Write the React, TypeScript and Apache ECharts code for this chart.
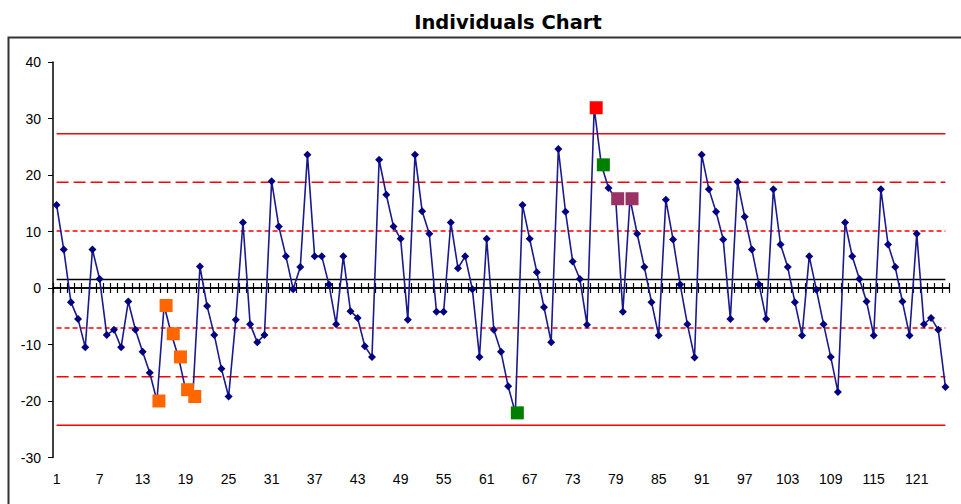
import React, { useEffect, useRef } from 'react';
import * as echarts from 'echarts';

// Observation numbers 1..125
const categories: string[] = Array.from({ length: 125 }, (_, i) => String(i + 1));

// Individual values
const values: number[] = [
  14.7, 6.8, -2.5, -5.5, -10.5, 6.8, 1.6, -8.3, -7.4, -10.5,
  -2.4, -7.4, -11.3, -15, -20, -3.1, -8.1, -12.2, -18, -19.2,
  3.8, -3.2, -8.3, -14.3, -19.2, -5.6, 11.6, -6.4, -9.6, -8.3,
  18.9, 10.9, 5.6, -0.2, 3.7, 23.6, 5.6, 5.6, 0.6, -6.4,
  5.6, -4.1, -5.3, -10.3, -12.2, 22.7, 16.5, 10.9, 8.7, -5.6,
  23.6, 13.6, 9.6, -4.2, -4.2, 11.6, 3.5, 5.6, -0.2, -12.2,
  8.7, -7.4, -11.3, -17.4, -22.1, 14.7, 8.7, 2.8, -3.4, -9.6,
  24.6, 13.5, 4.7, 1.6, -6.5, 31.9, 21.8, 17.7, 15.8, -4.2,
  15.8, 9.6, 3.7, -2.5, -8.4, 15.6, 8.6, 0.6, -6.4, -12.3,
  23.6, 17.5, 13.5, 8.6, -5.5, 18.8, 12.6, 6.8, 0.6, -5.5,
  17.5, 7.7, 3.7, -2.5, -8.4, 5.6, -0.3, -6.4, -12.2, -18.4,
  11.6, 5.6, 1.6, -2.4, -8.4, 17.5, 7.7, 3.7, -2.4, -8.4,
  9.6, -6.4, -5.3, -7.4, -17.5,
];

// Control limits
const centerLine = 1.5;
const ucl = 27.3;
const plus2Sigma = 18.7;
const plus1Sigma = 10.1;
const minus1Sigma = -7.1;
const minus2Sigma = -15.7;
const lcl = -24.3;

// Flagged observations (1-based numbers)
const orangePoints: number[] = [15, 16, 17, 18, 19, 20];
const greenPoints: number[] = [65, 77];
const redPoints: number[] = [76];
const purplePoints: number[] = [79, 81];

// Y axis ticks
const yMin = -30;
const yMax = 40;
const yStep = 10;

const FONT = 'Liberation Sans, Arial, sans-serif';

function flagged(nums: number[]) {
  return values.map((v, i) => (nums.includes(i + 1) ? v : null));
}

function constLine(v: number) {
  return categories.map(() => v);
}

export default function App() {
  const ref = useRef<HTMLDivElement>(null);
  useEffect(() => {
    document.body.style.margin = '0';
    if (!ref.current) return;
    const chart = echarts.init(ref.current, undefined, { renderer: 'svg' });
    const limitSeries = (name: string, v: number, color: string, type: any) => ({
      name,
      type: 'line',
      data: constLine(v),
      symbol: 'none',
      silent: true,
      lineStyle: { color, width: 1.5, type },
      z: 2,
    });
    const square = (name: string, nums: number[], color: string) => ({
      name,
      type: 'scatter',
      data: flagged(nums),
      symbol: 'rect',
      symbolSize: 13,
      symbolOffset: [2, 0],
      itemStyle: { color, opacity: 1 },
      z: 5,
    });
    const xBase = {
      type: 'category',
      data: categories,
      boundaryGap: true,
    };
    chart.setOption({
      animation: false,
      backgroundColor: '#fff',
      grid: { left: 53, right: 12, top: 62, bottom: 46.5, containLabel: false },
      graphic: [
        {
          type: 'rect',
          shape: { x: 8.5, y: 37.5, width: 1000, height: 1000 },
          style: { fill: 'none', stroke: '#333', lineWidth: 2 },
          silent: true,
        },
        {
          type: 'text',
          x: 508,
          y: 22,
          style: {
            text: 'Individuals Chart',
            fontFamily: 'DejaVu Sans, sans-serif',
            fontSize: 19.5,
            fontWeight: 'bold',
            fill: '#000',
            align: 'center',
            verticalAlign: 'middle',
            textAlign: 'center',
            textVerticalAlign: 'middle',
          },
        },
      ],
      xAxis: [
        {
          ...xBase,
          position: 'bottom',
          axisLine: { show: false, onZero: false },
          axisTick: { show: false },
          axisLabel: { interval: 5, color: '#000', fontSize: 14, fontFamily: FONT, margin: 14 },
        },
        {
          ...xBase,
          position: 'bottom',
          axisLine: { show: true, onZero: true, onZeroAxisIndex: 0, lineStyle: { color: '#000', width: 1.5 } },
          axisTick: { show: true, inside: true, length: 5, interval: 0, lineStyle: { color: '#000', width: 1.2 } },
          axisLabel: { show: false },
        },
        {
          ...xBase,
          position: 'bottom',
          axisLine: { show: true, onZero: true, onZeroAxisIndex: 0, lineStyle: { color: '#000', width: 1.5 } },
          axisTick: { show: true, inside: false, length: 5, interval: 0, lineStyle: { color: '#000', width: 1.2 } },
          axisLabel: { show: false },
        },
      ],
      yAxis: {
        type: 'value',
        min: yMin,
        max: yMax,
        interval: yStep,
        axisLine: { show: true, onZero: false, lineStyle: { color: '#000', width: 1.5 } },
        axisTick: { show: true, length: 5, lineStyle: { color: '#000' } },
        splitLine: { show: false },
        axisLabel: { color: '#000', fontSize: 14, fontFamily: FONT, margin: 12 },
      },
      series: [
        limitSeries('UCL', ucl, '#ff0000', 'solid'),
        limitSeries('+2 Sigma', plus2Sigma, '#ff0000', [12, 5]),
        limitSeries('+1 Sigma', plus1Sigma, '#ff0000', [5, 3]),
        limitSeries('CL', centerLine, '#000000', 'solid'),
        limitSeries('-1 Sigma', minus1Sigma, '#ff0000', [5, 3]),
        limitSeries('-2 Sigma', minus2Sigma, '#ff0000', [12, 5]),
        limitSeries('LCL', lcl, '#ff0000', 'solid'),
        {
          name: 'Individuals',
          type: 'line',
          data: values,
          symbol: 'diamond',
          symbolSize: 8,
          showAllSymbol: true,
          itemStyle: { color: '#000080' },
          lineStyle: { color: '#1a1a8c', width: 1.6 },
          z: 4,
        },
        square('Orange', orangePoints, '#ff6600'),
        square('Green', greenPoints, '#008000'),
        square('Red', redPoints, '#ff0000'),
        square('Purple', purplePoints, '#993366'),
      ],
    });
    return () => chart.dispose();
  }, []);
  return <div ref={ref} style={{ width: 961, height: 504 }} />;
}
